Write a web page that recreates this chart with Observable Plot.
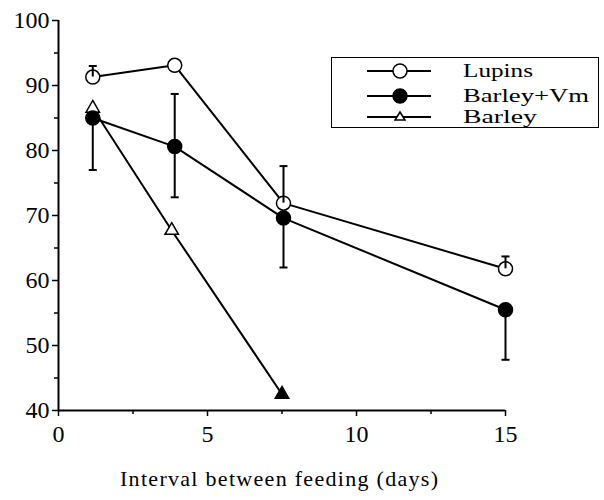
<!DOCTYPE html>
<html><head><meta charset="utf-8">
<script src="https://cdn.jsdelivr.net/npm/d3@7"></script>
<script src="https://cdn.jsdelivr.net/npm/@observablehq/plot@0.6"></script>
<style>
body{margin:0;background:#fff;}
#wrap{position:relative;width:604px;height:500px;font-family:'Liberation Serif';background:#fff;}
#wrap svg, #wrap svg text{font-family:'Liberation Serif';}
#legend{position:absolute;left:331px;top:57px;width:266px;height:69px;border:1.5px solid #000;background:#fff;}
#xlabel{position:absolute;left:0px;top:462px;}
</style></head><body><div id="wrap"></div>
<script>
const seriesNames = ["Lupins", "Barley+Vm", "Barley"];
const lupinsX = [1.15, 3.9, 7.55, 15];
const lupinsY = [91.3, 93.1, 71.9, 61.8];
const lupinsErrHi = [93.0, null, 77.6, 63.7];
const bvmX = [1.15, 3.9, 7.55, 15];
const bvmY = [85.0, 80.6, 69.6, 55.5];
const bvmErrLo = [77.0, 72.8, 62.0, 47.8];
const bvmErrHi = [null, 88.7, null, null];
const barleyX = [1.15, 3.8, 7.5];
const barleyY = [86.5, 67.7, 42.5];
const barleyFilled = [false, false, true];
const xTicks = [0, 5, 10, 15];
const xMinorTicks = [2.5, 7.5, 12.5];
const yTicks = [40, 50, 60, 70, 80, 90, 100];
const yMinorTicks = [45, 55, 65, 75, 85, 95];
const xLabel = "Interval between feeding (days)";

const serif = "Liberation Serif";

const lupins = lupinsX.map((x, i) => ({x, y: lupinsY[i], hi: lupinsErrHi[i]}));
const bvm = bvmX.map((x, i) => ({x, y: bvmY[i], lo: bvmErrLo[i], hi: bvmErrHi[i]}));
const barley = barleyX.map((x, i) => ({x, y: barleyY[i], filled: barleyFilled[i]}));

const bars = [];
lupins.forEach(d => { if (d.hi != null) bars.push({x: d.x, y1: d.y, y2: d.hi}); });
bvm.forEach(d => {
  if (d.lo != null) bars.push({x: d.x, y1: d.y, y2: d.lo});
  if (d.hi != null) bars.push({x: d.x, y1: d.y, y2: d.hi});
});

const capSymbol = {draw(context, size) {
  const r = Math.sqrt(size / Math.PI);
  context.moveTo(-r, 0); context.lineTo(r, 0);
}};

const chart = Plot.plot({
  width: 604, height: 500,
  marginLeft: 58, marginRight: 99, marginTop: 20, marginBottom: 90,
  style: {fontFamily: serif, background: "#fff", color: "#000"},
  x: {domain: [0, 15]},
  y: {domain: [40, 100]},
  marks: [
    Plot.axisY({ticks: yTicks, tickSize: 6, tickPadding: 3, fontSize: 24, label: null, strokeWidth: 1.5, fontFamily: serif}),
    Plot.axisY({ticks: yMinorTicks, tickSize: 4, tickFormat: () => "", label: null, strokeWidth: 1.5}),
    Plot.axisX({ticks: xTicks, tickSize: 6, tickPadding: 8, fontSize: 24, label: null, strokeWidth: 1.5, fontFamily: serif}),
    Plot.axisX({ticks: xMinorTicks, tickSize: 4, tickFormat: () => "", label: null, strokeWidth: 1.5}),
    Plot.ruleX([0], {strokeWidth: 2}),
    Plot.ruleY([40], {strokeWidth: 2}),
    Plot.line(lupins, {x: "x", y: "y", strokeWidth: 2}),
    Plot.line(bvm, {x: "x", y: "y", strokeWidth: 2}),
    Plot.line(barley, {x: "x", y: "y", strokeWidth: 2}),
    Plot.dot(barley, {x: "x", y: "y", symbol: "triangle", r: 5, stroke: "black", strokeWidth: 1.5, fill: d => d.filled ? "black" : "white"}),
    Plot.dot(bvm, {x: "x", y: "y", r: 7, fill: "black", stroke: "black"}),
    Plot.dot(lupins, {x: "x", y: "y", r: 7, fill: "white", stroke: "black", strokeWidth: 1.5}),
    Plot.ruleX(bars, {x: "x", y1: "y1", y2: "y2", strokeWidth: 2}),
    Plot.dot(bars, {x: "x", y: "y2", symbol: capSymbol, r: 4, stroke: "black", strokeWidth: 2})
  ]
});

const wrap = document.getElementById("wrap");
wrap.appendChild(chart);

const ns = "http://www.w3.org/2000/svg";
const legend = document.createElement("div");
legend.id = "legend";
const lsvg = document.createElementNS(ns, "svg");
lsvg.setAttribute("width", 266); lsvg.setAttribute("height", 69);
const rowsY = [13, 38, 59];
const textWidths = [70, 126, 74];
const kinds = ["open", "filled", "triangle"];
seriesNames.forEach((name, i) => {
  const y = rowsY[i];
  const line = document.createElementNS(ns, "line");
  line.setAttribute("x1", 35); line.setAttribute("x2", 99);
  line.setAttribute("y1", y); line.setAttribute("y2", y);
  line.setAttribute("stroke", "black"); line.setAttribute("stroke-width", 2);
  lsvg.appendChild(line);
  let m;
  if (kinds[i] === "triangle") {
    m = document.createElementNS(ns, "path");
    m.setAttribute("d", `M68,${y - 5}L73,${y + 3}L63,${y + 3}Z`);
    m.setAttribute("fill", "white");
  } else {
    m = document.createElementNS(ns, "circle");
    m.setAttribute("cx", 68); m.setAttribute("cy", y); m.setAttribute("r", 7);
    m.setAttribute("fill", kinds[i] === "filled" ? "black" : "white");
  }
  m.setAttribute("stroke", "black"); m.setAttribute("stroke-width", 1.5);
  lsvg.appendChild(m);
  const t = document.createElementNS(ns, "text");
  t.setAttribute("x", 131); t.setAttribute("y", y + 6);
  t.setAttribute("font-size", 18);
  t.setAttribute("font-family", serif);
  t.setAttribute("textLength", textWidths[i]);
  t.setAttribute("lengthAdjust", "spacingAndGlyphs");
  t.textContent = name;
  lsvg.appendChild(t);
});
legend.appendChild(lsvg);
wrap.appendChild(legend);

const xl = document.createElement("div");
xl.id = "xlabel";
const xsvg = document.createElementNS(ns, "svg");
xsvg.setAttribute("width", 604); xsvg.setAttribute("height", 34);
const xt = document.createElementNS(ns, "text");
xt.setAttribute("x", 120); xt.setAttribute("y", 24);
xt.setAttribute("font-size", 22);
xt.setAttribute("font-family", serif);
xt.setAttribute("textLength", 318);
xt.setAttribute("lengthAdjust", "spacing");
xt.textContent = xLabel;
xsvg.appendChild(xt);
xl.appendChild(xsvg);
wrap.appendChild(xl);
</script>
</body></html>
